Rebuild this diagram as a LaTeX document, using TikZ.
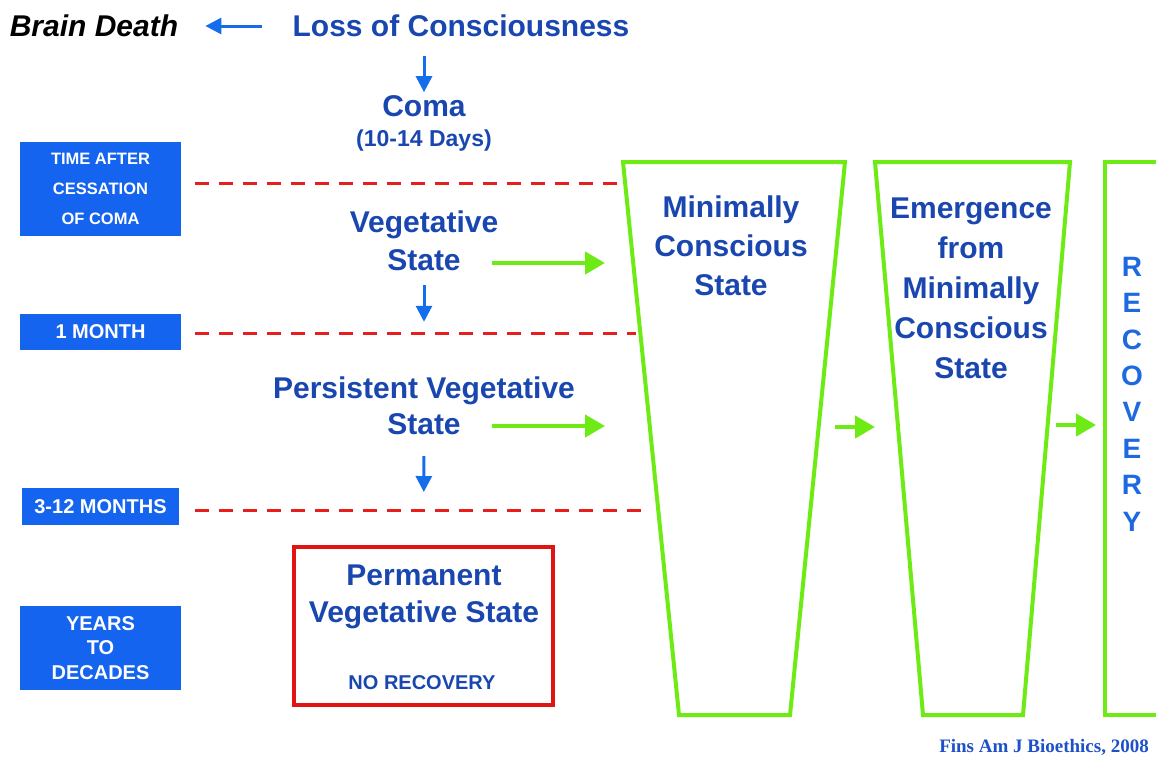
\documentclass[tikz,border=0pt]{standalone}
\usepackage{xcolor}
\usepackage{fontspec}
\setmainfont{Liberation Sans}
\newfontfamily\citefont{Liberation Serif}
\usepackage{tikz}
\usetikzlibrary{arrows.meta}

\definecolor{txtblue}{RGB}{25,70,175}
\definecolor{arrowblue}{RGB}{20,110,235}
\definecolor{boxblue}{RGB}{20,100,240}
\definecolor{recblue}{RGB}{30,105,225}
\definecolor{citeblue}{RGB}{30,80,200}
\definecolor{limegreen}{RGB}{110,235,20}
\definecolor{dashred}{RGB}{230,30,30}
\definecolor{permred}{RGB}{225,20,20}

\tikzset{
	trap/.style = {draw=limegreen, line width=4pt, line join=miter},
	timeline/.style = {draw=dashred, line width=3pt, dash pattern=on 14pt off 10pt},
	greenarrow/.style = {draw=limegreen, line width=4.5pt, -{Triangle[length=20pt,width=22pt]}},
	bluearrow/.style = {draw=arrowblue, line width=3pt, -{Triangle[length=16pt,width=16pt]}}
}

\begin{document}
\begin{tikzpicture}[x=1pt,y=1pt]
		\useasboundingbox (0,0) rectangle (1156,-758);
		\clip (0,0) rectangle (1156,-758);
		% time scale on the left
		\begin{scope}[every node/.style = {fill=boxblue, text=white, align=center, inner sep=0pt, minimum width=161pt, font=\bfseries\fontsize{20}{24.5}\selectfont}]
			\node[minimum height=94pt, font=\bfseries\fontsize{16.5}{30}\selectfont] (T0) at (100.5,-189) {TIME AFTER\\CESSATION\\OF COMA};
			\node[minimum height=36pt] (T1) at (100.5,-332) {1 MONTH};
			\node[minimum height=37pt, minimum width=157pt] (T2) at (100.5,-506.5) {3-12 MONTHS};
			\node[minimum height=84pt] (T3) at (100.5,-648) {YEARS\\TO\\DECADES};
		\end{scope}
		\foreach \y/\xe in {183/625, 333/636, 510/650}
			\draw[timeline] (195,-\y) -- (\xe,-\y);
		% states
		\draw[trap] (623,-162) -- (845,-162) -- (790,-715) -- (679,-715) -- cycle;
		\draw[trap] (875,-162) -- (1070,-162) -- (1023,-715) -- (923,-715) -- cycle;
		\draw[trap] (1190,-162) -- (1105,-162) -- (1105,-715) -- (1190,-715);
		\node[draw=permred, line width=4pt, minimum width=259pt, minimum height=158pt] (PERM) at (423.5,-626) {};
		\begin{scope}[every node/.style = {text=txtblue, align=center, inner sep=0pt, font=\bfseries\fontsize{30}{38}\selectfont}]
			\node[text=black, font=\bfseries\itshape\fontsize{30}{38}\selectfont] (BD) at (94,-26) {Brain Death};
			\node (LOC) at (461,-26) {Loss of Consciousness};
			\node (COMA) at (424,-106) {Coma};
			\node[font=\bfseries\fontsize{23}{28}\selectfont] (DAYS) at (424,-141) {(10-14 Days)};
			\node (VS) at (424,-241) {Vegetative\\State};
			\node[font=\bfseries\fontsize{30}{36}\selectfont] (PVS) at (424,-406) {Persistent Vegetative\\State};
			\node[font=\bfseries\fontsize{30}{39}\selectfont] (MCS) at (731,-246) {Minimally\\Conscious\\State};
			\node[font=\bfseries\fontsize{30}{40}\selectfont] (EMCS) at (971,-288) {Emergence\\from\\Minimally\\Conscious\\State};
			\node[font=\bfseries\fontsize{30}{37}\selectfont] (PVST) at (424,-597) {Permanent\\Vegetative State};
			\node[font=\bfseries\fontsize{20}{24}\selectfont] (NOREC) at (422,-683) {NO RECOVERY};
			\node[text=recblue, font=\bfseries\fontsize{28}{36.4}\selectfont] (REC) at (1132,-394) {R\\E\\C\\O\\V\\E\\R\\Y};
		\end{scope}
		\node[anchor=east, inner sep=0pt, text=citeblue, font=\citefont\bfseries\fontsize{19}{22}\selectfont] (CITE) at (1149,-747) {Fins Am J Bioethics, 2008};
		% arrows
		\coordinate (VSa) at (492,-263);
		\coordinate (VSb) at (605,-263);
		\coordinate (PVSa) at (492,-426);
		\coordinate (PVSb) at (605,-426);
		\coordinate (MCSa) at (835,-427);
		\coordinate (MCSb) at (875,-427);
		\coordinate (EMCSa) at (1056,-425);
		\coordinate (EMCSb) at (1096,-425);
		\draw[bluearrow, shorten <=30pt, shorten >=27pt] (LOC) -- (BD);
		\draw[bluearrow, shorten <=19pt, shorten >=3pt] (LOC.south -| COMA) -- (COMA);
		\draw[bluearrow, shorten <=14pt, shorten >=55pt] (VS) -- (PVS);
		\draw[bluearrow, shorten <=21pt, shorten >=53pt] (PVS) -- (PERM);
		\draw[greenarrow] (VSa) -- (VSb);
		\draw[greenarrow] (PVSa) -- (PVSb);
		\draw[greenarrow] (MCSa) -- (MCSb);
		\draw[greenarrow] (EMCSa) -- (EMCSb);
	\end{tikzpicture}
\end{document}
